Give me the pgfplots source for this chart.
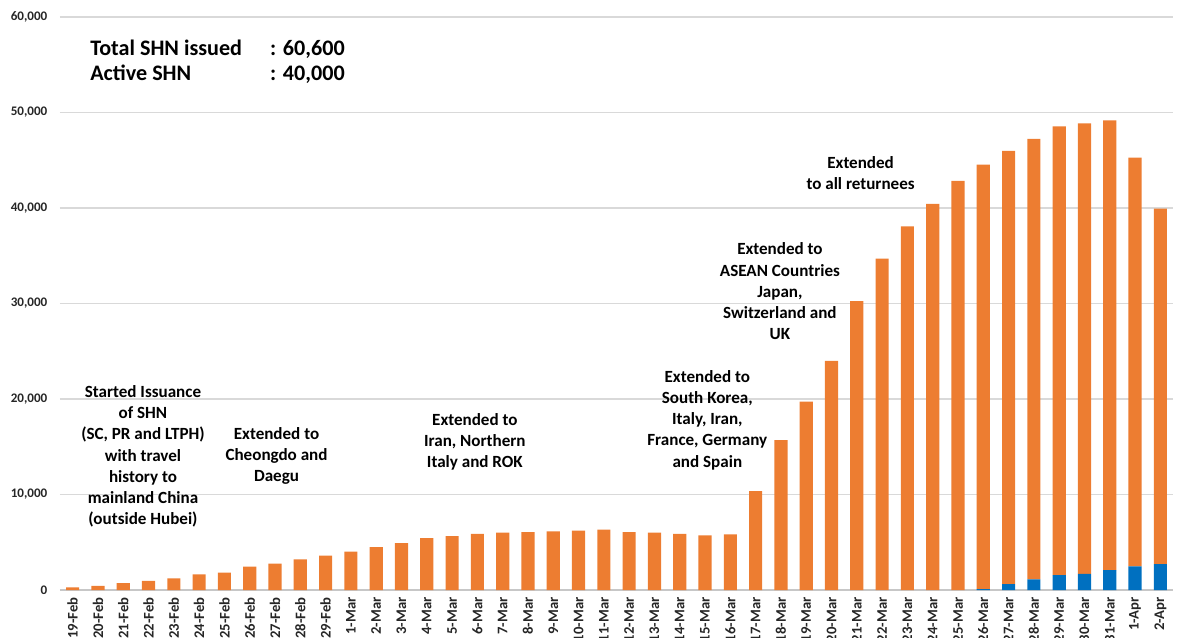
\documentclass[border=0pt]{standalone}
\usepackage{pgfplots}
\pgfplotsset{compat=1.18}
\usepackage{pgfplotstable}
\usepackage{fontspec}
\setmainfont{Carlito}

\definecolor{shnorange}{HTML}{ED7D31}
\definecolor{shnblue}{HTML}{0070C0}
\definecolor{gridgray}{HTML}{D9D9D9}
\definecolor{labelgray}{HTML}{262626}

% x = day index (19-Feb = 0), blue = lower part, orange = upper part
\pgfplotstableread{
x  blue  orange
0  0     280
1  0     440
2  0     710
3  0     950
4  0     1230
5  0     1640
6  0     1810
7  0     2440
8  0     2770
9  0     3210
10 0     3590
11 0     4010
12 0     4480
13 0     4910
14 0     5440
15 0     5650
16 0     5890
17 0     6000
18 0     6070
19 0     6140
20 0     6210
21 0     6320
22 0     6070
23 0     6000
24 0     5890
25 0     5720
26 0     5820
27 0     10350
28 0     15700
29 0     19720
30 0     23980
31 0     30260
32 0     34700
33 0     38080
34 0     40420
35 0     42830
36 80    44460
37 620   45350
38 1120  46110
39 1560  47000
40 1700  47170
41 2080  47100
42 2480  42790
43 2720  37210
}\shn

\begin{document}
\begin{tikzpicture}
\begin{axis}[
    scale only axis,
    width=834.75pt, height=429.75pt,
    xmin=-0.5, xmax=43.5,
    ymin=0, ymax=60000,
    ybar stacked,
    bar width=0.52,
    axis x line=bottom,
    axis y line=left,
    x axis line style={-, draw=gridgray!80!gray, line width=1pt},
    y axis line style={draw=none},
    major tick length=0pt,
    ytick={0,10000,20000,30000,40000,50000,60000},
    ymajorgrids,
    major grid style={draw=gridgray, line width=1pt},
    scaled y ticks=false,
    /pgf/number format/1000 sep={,},
    /pgf/number format/assume math mode=true,
    yticklabel style={font=\fontsize{9.8}{11}\selectfont\bfseries, text=labelgray, xshift=-6pt},
    xtick=data,
    xticklabels={19-Feb,20-Feb,21-Feb,22-Feb,23-Feb,24-Feb,25-Feb,26-Feb,27-Feb,28-Feb,29-Feb,
        1-Mar,2-Mar,3-Mar,4-Mar,5-Mar,6-Mar,7-Mar,8-Mar,9-Mar,10-Mar,11-Mar,12-Mar,13-Mar,
        14-Mar,15-Mar,16-Mar,17-Mar,18-Mar,19-Mar,20-Mar,21-Mar,22-Mar,23-Mar,24-Mar,25-Mar,
        26-Mar,27-Mar,28-Mar,29-Mar,30-Mar,31-Mar,1-Apr,2-Apr},
    xticklabel style={rotate=90, anchor=east, font=\fontsize{11}{12}\selectfont\bfseries, text=labelgray, xshift=-2pt},
]
\addplot[fill=shnblue, draw=none] table[x=x, y=blue] {\shn};
\addplot[fill=shnorange, draw=none] table[x=x, y=orange] {\shn};

\node[inner sep=0pt, anchor=base west, font=\fontsize{16.6}{19}\selectfont\bfseries] at (axis cs:0.686,56021) {Total SHN issued};
\node[inner sep=0pt, anchor=base west, font=\fontsize{16.6}{19}\selectfont\bfseries] at (axis cs:7.80,56021) {: 60,600};
\node[inner sep=0pt, anchor=base west, font=\fontsize{16.6}{19}\selectfont\bfseries] at (axis cs:0.686,53403) {Active SHN};
\node[inner sep=0pt, anchor=base west, font=\fontsize{16.6}{19}\selectfont\bfseries] at (axis cs:7.80,53403) {: 40,000};

\node[align=center, font=\fontsize{12.8}{15.9}\selectfont\bfseries] at (axis cs:2.78,13980) {Started Issuance\\of SHN\\(SC, PR and LTPH)\\with travel\\history to\\mainland China\\(outside Hubei)};
\node[align=center, font=\fontsize{12.8}{15.9}\selectfont\bfseries] at (axis cs:8.06,14030) {Extended to\\Cheongdo and\\Daegu};
\node[align=center, font=\fontsize{12.8}{15.9}\selectfont\bfseries] at (axis cs:15.9,15530) {Extended to\\Iran, Northern\\Italy and ROK};
\node[align=center, font=\fontsize{12.8}{15.9}\selectfont\bfseries] at (axis cs:25.09,17800) {Extended to\\South Korea,\\Italy, Iran,\\France, Germany\\and Spain};
\node[align=center, font=\fontsize{12.8}{15.9}\selectfont\bfseries] at (axis cs:27.96,31260) {Extended to\\ASEAN Countries\\Japan,\\Switzerland and\\UK};
\node[align=center, font=\fontsize{12.8}{15.9}\selectfont\bfseries] at (axis cs:31.15,43630) {Extended\\to all returnees};
\end{axis}
\pgfresetboundingbox
\useasboundingbox (-45pt,-35.25pt) rectangle (838.5pt,442.5pt);
\end{tikzpicture}
\end{document}
